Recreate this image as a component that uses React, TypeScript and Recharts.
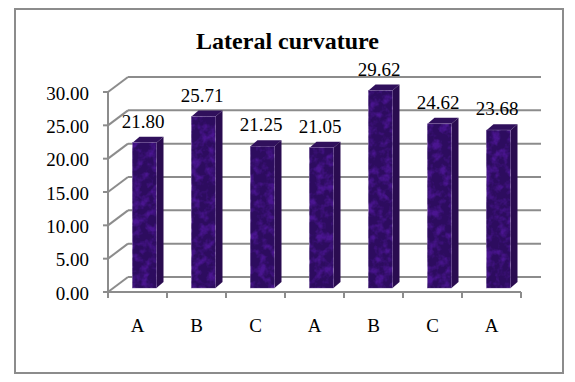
import React from "react";
import { BarChart, Bar, XAxis, YAxis, CartesianGrid, LabelList } from "recharts";

const categories = ["A", "B", "C", "A", "B", "C", "A"];
const values = [21.8, 25.71, 21.25, 21.05, 29.62, 24.62, 23.68];
const yTicks = [0, 5, 10, 15, 20, 25, 30];
const title = "Lateral curvature";
const rows = categories.map((c, i) => ({ i, name: c, value: values[i] }));

const FONT = "'Liberation Serif', 'Times New Roman', serif";
const GRID = "#8c8c8c";
const DX = 20, DY = 15;

const Shape3D = (p: any) => {
  const { x, y, width, height } = p;
  const sx = x + 6.5, d = 7, up = 4;
  const fx = sx, fy = y - up, w = width, h = height;
  const top = `${fx},${fy} ${fx + d},${fy - 6} ${fx + w + d},${fy - 6} ${fx + w},${fy}`;
  const side = `${fx + w},${fy} ${fx + w + d},${fy - 6} ${fx + w + d},${fy + h - 6} ${fx + w},${fy + h}`;
  return (
    <g>
      <polygon points={top} fill="#30105c" />
      <polygon points={side} fill="#2a0c50" />
      <rect x={fx} y={fy} width={w} height={h} fill="#4a1590" stroke="#9a80b8" strokeWidth={0.6} />
      <rect x={fx} y={fy} width={w} height={h} filter="url(#mottle)" opacity={0.8} />
    </g>
  );
};

const XTick = (p: any) => {
  const { x, y, payload, index } = p;
  const band = 413 / categories.length;
  return (
    <g>
      <line x1={x - band / 2} x2={x - band / 2} y1={y - 8} y2={y - 2} stroke={GRID} strokeWidth={2} />
      {index === categories.length - 1 && (
        <line x1={x + band / 2} x2={x + band / 2} y1={y - 8} y2={y - 2} stroke={GRID} strokeWidth={2} />
      )}
      <text x={x} y={y + 32} textAnchor="middle" fontFamily={FONT} fontSize={19} fill="#000">{payload.value}</text>
    </g>
  );
};

const GridLine = (p: any) => {
  const { x1, x2, y1 } = p;
  return (
    <g>
      <line x1={x1} y1={y1} x2={x1 + DX} y2={y1 - DY} stroke={GRID} strokeWidth={2} />
      <line x1={x1 + DX} y1={y1 - DY} x2={x2 + DX} y2={y1 - DY} stroke={GRID} strokeWidth={2} />
    </g>
  );
};

const BarLabel = (p: any) => {
  const { x, y, width, value } = p;
  return (
    <text x={x + width / 2 + 5} y={y - 19} textAnchor="middle" fontFamily={FONT} fontSize={19} fill="#000">
      {Number(value).toFixed(2)}
    </text>
  );
};

export default function App() {
  return (
    <div style={{ position: "absolute", left: 0, top: 0, width: 575, height: 382, background: "#fff" }}>
      <div style={{ position: "absolute", left: 14, top: 8, width: 546, height: 362, border: "2px solid #8c8c8c" }} />
      <div style={{ position: "absolute", left: 0, width: 575, top: 28, textAlign: "center", fontFamily: FONT, fontWeight: "bold", fontSize: 24, lineHeight: "26px", color: "#000" }}>
        {title}
      </div>
      <div style={{ position: "absolute", left: 0, top: 0 }}>
        <BarChart width={575} height={382} data={rows} margin={{ top: 92, right: 54, bottom: 0, left: 0 }} barSize={24}>
          <defs>
            <filter id="mottle" x="0" y="0" width="100%" height="100%" colorInterpolationFilters="sRGB">
              <feTurbulence type="fractalNoise" baseFrequency="0.12" numOctaves={3} seed={4} />
              <feColorMatrix type="matrix" values="0 0 0 0 0.15  0 0 0 0 0.04  0 0 0 0 0.33  3 0 0 0 -0.7" />
              <feComposite in2="SourceAlpha" operator="in" />
            </filter>
          </defs>
          <CartesianGrid vertical={false} horizontal={(props: any) => <GridLine key={props.key} {...props} />} />
          <XAxis dataKey="name" height={90} interval={0} axisLine={{ stroke: GRID, strokeWidth: 2 }} tickLine={false} tick={XTick} />
          <YAxis width={108} domain={[0, 30]} ticks={yTicks} interval={0} tickFormatter={(v: number) => v.toFixed(2)}
            axisLine={{ stroke: GRID, strokeWidth: 2 }} tickLine={{ stroke: GRID, strokeWidth: 2 }} tickSize={5} tickMargin={14}
            tick={{ fontFamily: FONT, fontSize: 19, fill: "#000", dy: 1 }} />
          <Bar dataKey="value" shape={Shape3D} isAnimationActive={false}>
            <LabelList dataKey="value" content={BarLabel} />
          </Bar>
        </BarChart>
      </div>
    </div>
  );
}
